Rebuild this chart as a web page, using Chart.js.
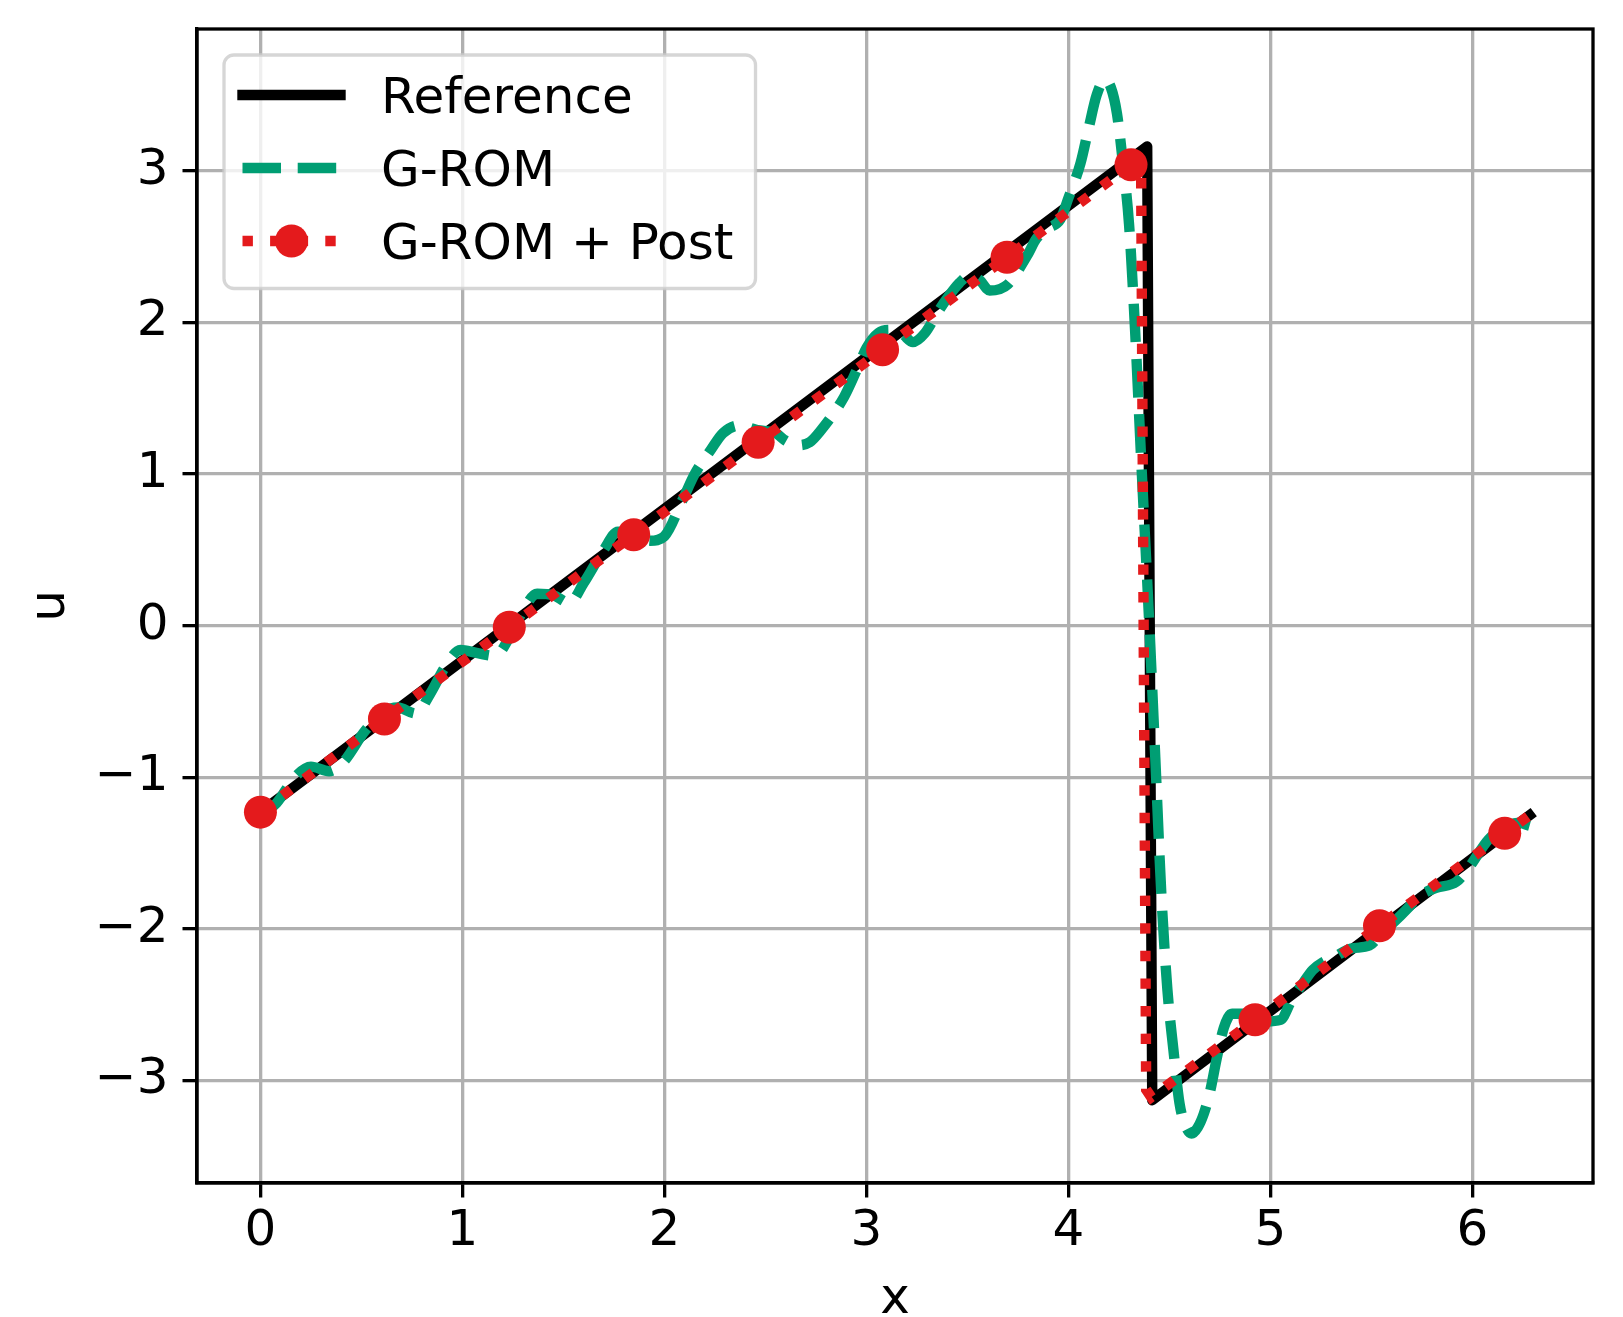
<!DOCTYPE html>
<html>
<head>
  <title>G-ROM vs reference</title>
  <script src="https://cdn.jsdelivr.net/npm/chart.js"></script>
  <style>
    body { margin: 0; background: #fff; }
    canvas { display: block; }
  </style>
</head>
<body>
  <canvas id="uChart" width="1623" height="1317"></canvas>

  <script>
    // values
    const seriesNames = ['Reference', 'G-ROM', 'G-ROM + Post'];

    const refX = [0, 4.39, 4.415, 6.283];
    const refU = [-1.23, 3.16, -3.13, -1.25];

    const gromX = [0.00, 0.08, 0.17, 0.25, 0.34, 0.41, 0.52, 0.61, 0.68, 0.77, 0.84, 0.92, 0.99, 1.07, 1.16,
      1.24, 1.30, 1.37, 1.45, 1.53, 1.60, 1.70, 1.77, 1.85, 1.93, 2.00, 2.09, 2.15, 2.23, 2.29, 2.37, 2.46,
      2.55, 2.60, 2.66, 2.72, 2.77, 2.89, 2.95, 3.00, 3.06, 3.12, 3.18, 3.23, 3.29, 3.35, 3.40, 3.46, 3.51,
      3.56, 3.61, 3.66, 3.70, 3.80, 3.84, 3.90, 3.96, 4.00, 4.06, 4.10, 4.14, 4.18, 4.21, 4.24, 4.27, 4.30,
      4.33, 4.36, 4.40, 4.43, 4.46, 4.49, 4.52, 4.55, 4.58, 4.61, 4.64, 4.67, 4.70, 4.735, 4.77, 4.81, 4.86,
      4.92, 4.98, 5.05, 5.105, 5.16, 5.21, 5.26, 5.31, 5.40, 5.49, 5.55, 5.60, 5.69, 5.73, 5.82, 5.92, 5.98,
      6.08, 6.16, 6.23, 6.283];
    const gromU = [-1.25, -1.17, -1.00, -0.93, -0.96, -0.90, -0.69, -0.57, -0.54, -0.58, -0.45, -0.26, -0.16, -0.18, -0.20,
      -0.06, 0.10, 0.21, 0.20, 0.15, 0.28, 0.50, 0.62, 0.60, 0.56, 0.59, 0.83, 1.00, 1.16, 1.27, 1.32, 1.29,
      1.27, 1.22, 1.19, 1.21, 1.28, 1.51, 1.68, 1.83, 1.93, 1.95, 1.92, 1.87, 1.93, 2.06, 2.16, 2.26, 2.31,
      2.28, 2.21, 2.22, 2.25, 2.45, 2.55, 2.62, 2.68, 2.82, 3.05, 3.28, 3.50, 3.60, 3.55, 3.38, 3.05, 2.65,
      1.95, 1.10, 0.02, -0.87, -1.77, -2.40, -2.80, -3.15, -3.30, -3.35, -3.31, -3.22, -3.08, -2.85, -2.65, -2.56, -2.56,
      -2.59, -2.61, -2.60, -2.47, -2.36, -2.27, -2.22, -2.19, -2.13, -2.11, -2.03, -1.97, -1.85, -1.79, -1.73, -1.69, -1.60,
      -1.41, -1.33, -1.30, -1.32];

    const postX = [0, 0.614, 1.232, 1.848, 2.464, 3.08, 3.696, 4.31, 4.36, 4.385, 4.41, 4.924, 5.54, 6.16, 6.283];
    const postU = [-1.23, -0.615, -0.01, 0.60, 1.21, 1.82, 2.43, 3.04, 3.00, -3.06, -3.11, -2.60, -1.98, -1.37, -1.25];
    const postMarked = [1, 1, 1, 1, 1, 1, 1, 1, 0, 0, 0, 1, 1, 1, 0];

    const xTicks = [0, 1, 2, 3, 4, 5, 6];
    const uTicks = [-3, -2, -1, 0, 1, 2, 3];

    const pts = (xs, ys) => xs.map((x, i) => ({ x: x, y: ys[i] }));
    const FONT = 'DejaVu Sans';
    const MARKER_R = 16.5;

    // top/right spines + matplotlib style legend
    const frameAndLegend = {
      id: 'frameAndLegend',
      afterDatasetsDraw(chart) {
        const ctx = chart.ctx;
        const a = chart.chartArea;
        ctx.save();
        ctx.strokeStyle = '#000';
        ctx.lineWidth = 3.3;
        ctx.setLineDash([]);
        ctx.strokeRect(a.left, a.top, a.right - a.left, a.bottom - a.top);

        // legend frame
        const bx = 224, by = 55, bw = 531.5, bh = 233.5, r = 10;
        ctx.beginPath();
        ctx.moveTo(bx + r, by);
        ctx.arcTo(bx + bw, by, bx + bw, by + bh, r);
        ctx.arcTo(bx + bw, by + bh, bx, by + bh, r);
        ctx.arcTo(bx, by + bh, bx, by, r);
        ctx.arcTo(bx, by, bx + bw, by, r);
        ctx.closePath();
        ctx.fillStyle = 'rgba(255,255,255,0.8)';
        ctx.fill();
        ctx.strokeStyle = 'rgba(204,204,204,0.8)';
        ctx.lineWidth = 3.3;
        ctx.stroke();

        const baselines = [112.5, 185.5, 258.5];
        chart.data.datasets.forEach((ds, i) => {
          const yc = baselines[i] - 17.5;
          ctx.beginPath();
          ctx.setLineDash(ds.borderDash || []);
          ctx.lineCap = ds.borderCapStyle || 'butt';
          ctx.lineWidth = ds.borderWidth;
          ctx.strokeStyle = ds.borderColor;
          ctx.moveTo(242.5, yc);
          ctx.lineTo(340.5, yc);
          ctx.stroke();
          if (ds.legendMarker) {
            ctx.setLineDash([]);
            ctx.beginPath();
            ctx.arc(291.5, yc, MARKER_R, 0, Math.PI * 2);
            ctx.fillStyle = ds.borderColor;
            ctx.fill();
          }
          ctx.fillStyle = '#000';
          ctx.font = '50px "' + FONT + '"';
          ctx.textBaseline = 'alphabetic';
          ctx.textAlign = 'left';
          ctx.fillText(ds.label, 381, baselines[i]);
        });
        ctx.restore();
      }
    };

    const tickFmt = v => String(v).replace('-', '\u2212');

    const chart = new Chart(document.getElementById('uChart').getContext('2d'), {
      type: 'line',
      data: {
        datasets: [
          {
            label: seriesNames[0], data: pts(refX, refU), order: 3,
            borderColor: '#000000', borderWidth: 10.4, borderCapStyle: 'square', borderJoinStyle: 'round',
            pointRadius: 0, tension: 0
          },
          {
            label: seriesNames[1], data: pts(gromX, gromU), order: 2,
            borderColor: '#009E73', borderWidth: 10.4, borderDash: [38.5, 16.7], borderCapStyle: 'butt',
            pointRadius: 0, cubicInterpolationMode: 'monotone'
          },
          {
            label: seriesNames[2], data: pts(postX, postU), order: 1, legendMarker: true,
            borderColor: '#E41A1C', borderWidth: 10.4, borderDash: [10.4, 17.2], borderCapStyle: 'butt',
            pointRadius: postMarked.map(m => m ? MARKER_R : 0),
            pointBackgroundColor: '#E41A1C', pointBorderWidth: 0, tension: 0
          }
        ]
      },
      options: {
        responsive: false,
        animation: false,
        devicePixelRatio: 1,
        events: [],
        layout: { autoPadding: false, padding: { top: 29, right: 30, left: 0, bottom: 0 } },
        plugins: { legend: { display: false }, tooltip: { enabled: false } },
        scales: {
          x: {
            type: 'linear', min: -0.314, max: 6.597,
            afterFit: s => { s.height = 134; s.paddingLeft = 0; s.paddingRight = 0; },
            afterBuildTicks: s => { s.ticks = xTicks.map(v => ({ value: v })); },
            ticks: { font: { family: FONT, size: 50 }, color: '#000', padding: 5, maxRotation: 0, callback: tickFmt },
            grid: { color: '#b0b0b0', lineWidth: 3.3, tickColor: '#000', tickWidth: 3.3, tickLength: 14.5 },
            border: { color: '#000', width: 3.3 },
            title: { display: true, text: 'x', color: '#000', font: { family: FONT, size: 50 }, padding: { top: 0, bottom: -13 } }
          },
          y: {
            type: 'linear', min: -3.676, max: 3.935,
            afterFit: s => { s.width = 197; s.paddingTop = 0; s.paddingBottom = 0; },
            afterBuildTicks: s => { s.ticks = uTicks.map(v => ({ value: v })); },
            ticks: { font: { family: FONT, size: 50 }, color: '#000', padding: 14, callback: tickFmt },
            grid: { color: '#b0b0b0', lineWidth: 3.3, tickColor: '#000', tickWidth: 3.3, tickLength: 14.5 },
            border: { color: '#000', width: 3.3 },
            title: { display: true, text: 'u', color: '#000', font: { family: FONT, size: 50 }, padding: { top: 21, bottom: 0 } }
          }
        }
      },
      plugins: [frameAndLegend]
    });
  </script>
</body>
</html>
